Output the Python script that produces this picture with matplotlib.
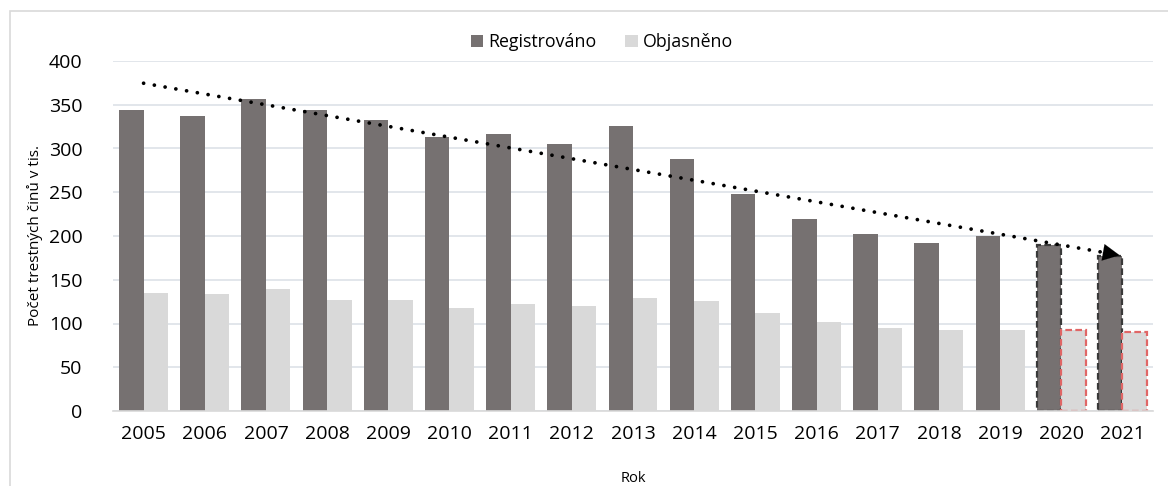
import numpy as np
import matplotlib
matplotlib.use("Agg")
import matplotlib.pyplot as plt
from matplotlib.patches import Rectangle

plt.rcParams['font.family'] = ['Open Sans', 'DejaVu Sans']

years = ['2005', '2006', '2007', '2008', '2009', '2010', '2011', '2012', '2013',
         '2014', '2015', '2016', '2017', '2018', '2019', '2020', '2021']
registrovano = [344, 337, 357, 344, 333, 313, 317, 305, 326,
                288, 248, 219, 202, 192, 200, 190, 177]
objasneno = [135, 134, 139, 127, 127, 118, 122, 120, 129,
             126, 112, 102, 95, 93, 93, 93, 90]
highlighted = ['2020', '2021']

c_reg = '#767171'
c_obj = '#d9d9d9'
c_grid = '#dde2e8'

fig = plt.figure(figsize=(11.68, 4.86), dpi=100)
ax = fig.add_axes([113 / 1168, 1 - 411 / 486, 1040 / 1168, 350 / 486])

x = np.arange(len(years))
w = 0.4
bars_r = ax.bar(x - w / 2, registrovano, w, color=c_reg, label='Registrováno', zorder=2)
bars_o = ax.bar(x + w / 2, objasneno, w, color=c_obj, label='Objasněno', zorder=2)

for i, y in enumerate(years):
    if y in highlighted:
        bars_r[i].set_edgecolor('#3a3a3a')
        bars_r[i].set_linestyle((0, (3, 1.5)))
        bars_r[i].set_linewidth(1.6)
        bars_o[i].set_edgecolor('#e06666')
        bars_o[i].set_linestyle((0, (3, 1.5)))
        bars_o[i].set_linewidth(1.6)

# linear trend of registered crimes
k, q = np.polyfit(x, registrovano, 1)
xt = np.array([0, len(years) - 1.1])
ax.plot(xt, k * xt + q, color='black', lw=2.7, linestyle=(0, (0.01, 2.9)),
        dash_capstyle='round', zorder=3)
x1 = len(years) - 1
ax.annotate('', xy=(x1, k * x1 + q), xytext=(x1 - 0.4, k * (x1 - 0.4) + q),
            arrowprops=dict(arrowstyle='-|>', color='black', lw=0.1,
                            mutation_scale=30), zorder=4)

ax.set_xlim(-0.5, len(years) - 0.5)
ax.set_ylim(0, 400)
ax.set_yticks(range(0, 401, 50))
ax.set_xticks(x)
ax.set_xticklabels(years)
ax.yaxis.grid(True, color=c_grid, lw=1.2, zorder=0)
ax.set_axisbelow(True)
for s in ['top', 'right', 'left']:
    ax.spines[s].set_visible(False)
ax.spines['bottom'].set_color('#d9d9d9')
ax.spines['bottom'].set_linewidth(1.2)
ax.tick_params(axis='both', length=0, labelsize=14, colors='black')
ax.tick_params(axis='x', pad=10)
ax.tick_params(axis='y', pad=22)
ax.set_ylabel('Počet trestných činů v tis.', fontsize=11, labelpad=4)
ax.set_xlabel('Rok', fontsize=10.5, labelpad=20)

fig.legend(handles=[bars_r, bars_o], loc='center', bbox_to_anchor=(602 / 1168, 1 - 42 / 486),
           ncol=2, frameon=False, fontsize=12.8, handlelength=0.7, handleheight=0.7,
           handletextpad=0.3, columnspacing=1.6)

fig.patches.append(Rectangle((9.5 / 1168, -0.1), 1.2, 1 - 11.5 / 486 + 0.1,
                             transform=fig.transFigure, fill=False,
                             edgecolor='#d9d9d9', lw=1.2))

fig.savefig('out.png', dpi=100)
